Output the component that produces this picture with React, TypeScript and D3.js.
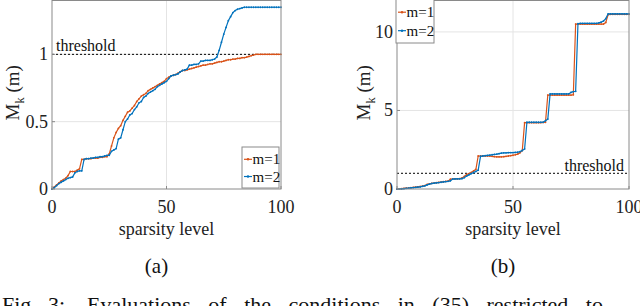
import React from 'react';
import * as d3 from 'd3';

// sparsity levels on the x axis
const SPARSITY = d3.range(0, 101);

// panel (a): M_k(m) per sparsity level
const A_M1 = [
  0, 0.015, 0.03, 0.045, 0.06, 0.07, 0.08, 0.1, 0.13, 0.13,
  0.13, 0.14, 0.15, 0.22, 0.22, 0.225, 0.225, 0.225, 0.23, 0.23,
  0.23, 0.235, 0.235, 0.24, 0.24, 0.26, 0.32, 0.38, 0.42, 0.45,
  0.47, 0.51, 0.54, 0.57, 0.58, 0.6, 0.62, 0.65, 0.67, 0.69,
  0.7, 0.71, 0.73, 0.74, 0.75, 0.76, 0.77, 0.78, 0.79, 0.8,
  0.82, 0.83, 0.84, 0.845, 0.85, 0.86, 0.87, 0.88, 0.88, 0.885,
  0.89, 0.895, 0.9, 0.905, 0.91, 0.915, 0.92, 0.92, 0.925, 0.93,
  0.93, 0.935, 0.94, 0.945, 0.945, 0.95, 0.955, 0.96, 0.96, 0.965,
  0.965, 0.97, 0.97, 0.975, 0.975, 0.98, 0.985, 0.99, 0.995, 1,
  1, 1, 1, 1, 1, 1, 1, 1, 1, 1, 1,
];
const A_M2 = [
  0, 0.01, 0.025, 0.04, 0.05, 0.06, 0.07, 0.08, 0.085, 0.09,
  0.12, 0.13, 0.135, 0.135, 0.22, 0.225, 0.225, 0.23, 0.23, 0.235,
  0.235, 0.24, 0.24, 0.245, 0.25, 0.25, 0.28, 0.29, 0.3, 0.37,
  0.38, 0.44, 0.5, 0.52, 0.55, 0.56, 0.59, 0.61, 0.64, 0.65,
  0.68, 0.69, 0.71, 0.72, 0.73, 0.74, 0.76, 0.77, 0.78, 0.79,
  0.8, 0.82, 0.84, 0.845, 0.85, 0.855, 0.87, 0.88, 0.885, 0.89,
  0.92, 0.92, 0.925, 0.925, 0.93, 0.95, 0.95, 0.955, 0.955, 0.955,
  0.96, 0.965, 0.98, 1.03, 1.09, 1.15, 1.2, 1.25, 1.28, 1.31,
  1.325, 1.335, 1.34, 1.345, 1.35, 1.35, 1.35, 1.35, 1.35, 1.35,
  1.35, 1.35, 1.35, 1.35, 1.35, 1.35, 1.35, 1.35, 1.35, 1.35, 1.35,
];

// panel (b)
const B_M1 = [
  0, 0, 0.02, 0.04, 0.05, 0.06, 0.08, 0.1, 0.12, 0.14,
  0.16, 0.18, 0.22, 0.3, 0.33, 0.36, 0.38, 0.4, 0.42, 0.44,
  0.46, 0.48, 0.5, 0.62, 0.64, 0.65, 0.65, 0.66, 0.7, 0.8,
  0.92, 0.98, 1.05, 1.15, 1.25, 2.1, 2.1, 2.1, 2.1, 2.1,
  2.1, 2.08, 2.06, 2.05, 2.05, 2.05, 2.06, 2.08, 2.1, 2.12,
  2.15, 2.18, 2.22, 2.3, 2.45, 4.22, 4.22, 4.22, 4.22, 4.22,
  4.22, 4.22, 4.23, 4.24, 4.25, 5.98, 5.98, 5.98, 5.98, 5.98,
  5.98, 5.98, 5.98, 5.98, 5.98, 5.98, 6.0, 10.5, 10.5, 10.5,
  10.5, 10.5, 10.5, 10.5, 10.5, 10.5, 10.5, 10.5, 10.5, 10.5,
  10.6, 11.1, 11.12, 11.12, 11.12, 11.12, 11.12, 11.12, 11.12, 11.12, 11.12,
];
const B_M2 = [
  0, 0, 0.01, 0.02, 0.04, 0.05, 0.07, 0.09, 0.1, 0.12,
  0.14, 0.17, 0.2, 0.26, 0.31, 0.35, 0.37, 0.39, 0.41, 0.43,
  0.45, 0.47, 0.49, 0.52, 0.63, 0.64, 0.65, 0.65, 0.66, 0.72,
  0.82, 0.9, 0.98, 1.05, 1.12, 1.2, 2.08, 2.1, 2.12, 2.14,
  2.16, 2.18, 2.2, 2.22, 2.25, 2.28, 2.3, 2.3, 2.31, 2.32,
  2.32, 2.33, 2.34, 2.38, 2.45, 2.55, 4.25, 4.25, 4.25, 4.25,
  4.25, 4.25, 4.25, 4.25, 4.35, 4.45, 6.05, 6.05, 6.05, 6.05,
  6.05, 6.05, 6.05, 6.05, 6.05, 6.15, 6.2, 6.22, 10.52, 10.55,
  10.55, 10.55, 10.55, 10.55, 10.55, 10.55, 10.55, 10.58, 10.62, 10.7,
  10.85, 11.15, 11.15, 11.15, 11.15, 11.15, 11.15, 11.15, 11.15, 11.15, 11.15,
];

const X_TICKS = [0, 50, 100];
const A_Y_TICKS = [0, 0.5, 1];
const B_Y_TICKS = [0, 5, 10];
const THRESHOLD = 1;
const SERIES_NAMES = ['m=1', 'm=2'];

const ORANGE = '#D95319';
const BLUE = '#0072BD';
const FONT = "'Liberation Serif', 'Times New Roman', serif";

type PanelProps = {
  left: number;
  right: number;
  top: number;
  bottom: number;
  yMax: number;
  yTicks: number[];
  m1: number[];
  m2: number[];
  legend: { x: number; y: number; w: number; h: number };
  thresholdLabel: { x: number; y: number; anchor: 'start' | 'end' };
  labelX: number;
  caption: string;
};

function Panel(p: PanelProps) {
  const x = d3.scaleLinear().domain([0, 100]).range([p.left, p.right]);
  const y = d3.scaleLinear().domain([0, p.yMax]).range([p.bottom, p.top]);
  const line = d3.line<number>().x((_, i) => x(SPARSITY[i])).y(d => y(d));
  const cx = (p.left + p.right) / 2;
  const cy = (p.top + p.bottom) / 2;
  const series = [
    { vals: p.m1, color: ORANGE },
    { vals: p.m2, color: BLUE },
  ];

  return (
    <g style={{ fontFamily: FONT }}>
      {/* grid */}
      {X_TICKS.filter(t => t > 0 && t < 100).map(t => (
        <line key={'gx' + t} x1={x(t)} x2={x(t)} y1={p.top} y2={p.bottom} stroke="#e4e4e4" />
      ))}
      {p.yTicks.filter(t => t > 0).map(t => (
        <line key={'gy' + t} x1={p.left} x2={p.right} y1={y(t)} y2={y(t)} stroke="#e4e4e4" />
      ))}

      {/* threshold */}
      <line x1={x(0)} x2={x(100)} y1={y(THRESHOLD)} y2={y(THRESHOLD)}
        stroke="#000" strokeWidth={1} strokeDasharray="2,2" />
      <text x={p.thresholdLabel.x} y={p.thresholdLabel.y} fontSize={16}
        textAnchor={p.thresholdLabel.anchor} fill="#111">threshold</text>

      {/* curves */}
      {series.map((s, k) => (
        <g key={k}>
          <path d={line(s.vals) || ''} fill="none" stroke={s.color} strokeWidth={1.2} />
          {s.vals.map((v, i) => (
            <circle key={i} cx={x(SPARSITY[i])} cy={y(v)} r={0.9} fill={s.color} />
          ))}
        </g>
      ))}

      {/* box */}
      <rect x={p.left} y={p.top} width={p.right - p.left} height={p.bottom - p.top}
        fill="none" stroke="#8a8a8a" strokeWidth={1} />

      {/* ticks */}
      {X_TICKS.map(t => (
        <g key={'xt' + t}>
          <line x1={x(t)} x2={x(t)} y1={p.bottom} y2={p.bottom - 3} stroke="#8a8a8a" />
          <text x={x(t)} y={p.bottom + 24} fontSize={18} textAnchor="middle" fill="#222">{t}</text>
        </g>
      ))}
      {p.yTicks.map(t => (
        <g key={'yt' + t}>
          <line x1={p.left} x2={p.left + 3} y1={y(t)} y2={y(t)} stroke="#8a8a8a" />
          <text x={p.left - 4} y={y(t) + 6} fontSize={18} textAnchor="end" fill="#222">{t}</text>
        </g>
      ))}

      {/* axis labels */}
      <text x={cx} y={p.bottom + 46} fontSize={18} textAnchor="middle" fill="#222">sparsity level</text>
      <text transform={`translate(${p.labelX},${cy - 2}) rotate(-90)`} fontSize={19}
        textAnchor="middle" fill="#222">
        M<tspan fontSize={12.5} dy={5}>k</tspan>
        <tspan dy={-5}> (m)</tspan>
      </text>
      <text x={cx - 10} y={p.bottom + 84} fontSize={21} textAnchor="middle" fill="#111">{p.caption}</text>

      {/* legend */}
      <rect x={p.legend.x} y={p.legend.y} width={p.legend.w} height={p.legend.h}
        fill="#fff" stroke="#8a8a8a" />
      {series.map((s, k) => {
        const ly = p.legend.y + p.legend.h * (k === 0 ? 0.3 : 0.72);
        return (
          <g key={'lg' + k}>
            <line x1={p.legend.x + 2} x2={p.legend.x + 10} y1={ly} y2={ly} stroke={s.color} strokeWidth={1.2} />
            <circle cx={p.legend.x + 6} cy={ly} r={1.2} fill={s.color} />
            <text x={p.legend.x + 10.5} y={ly + 5} fontSize={15} fill="#111">{SERIES_NAMES[k]}</text>
          </g>
        );
      })}
    </g>
  );
}

export default function App() {
  return (
    <svg width={640} height={306} viewBox="0 0 640 306"
      style={{ position: 'absolute', left: 0, top: 0, background: '#fff' }}>
      <Panel left={52} right={281} top={0.5} bottom={189} yMax={1.4} yTicks={A_Y_TICKS}
        m1={A_M1} m2={A_M2}
        legend={{ x: 242, y: 147, w: 37, h: 41 }}
        thresholdLabel={{ x: 56, y: 51, anchor: 'start' }}
        labelX={19} caption="(a)" />
      <Panel left={397} right={629} top={0.5} bottom={189} yMax={12} yTicks={B_Y_TICKS}
        m1={B_M1} m2={B_M2}
        legend={{ x: 396, y: -1, w: 38, h: 44 }}
        thresholdLabel={{ x: 624, y: 171, anchor: 'end' }}
        labelX={370} caption="(b)" />
      <text y={312} fontSize={22} style={{ fontFamily: FONT }} fill="#111">
        <tspan x={2}>Fig.</tspan>
        <tspan x={48}>3:</tspan>
        <tspan x={87} style={{ wordSpacing: '12px' }}>Evaluations of the conditions in (35) restricted to</tspan>
      </text>
    </svg>
  );
}
